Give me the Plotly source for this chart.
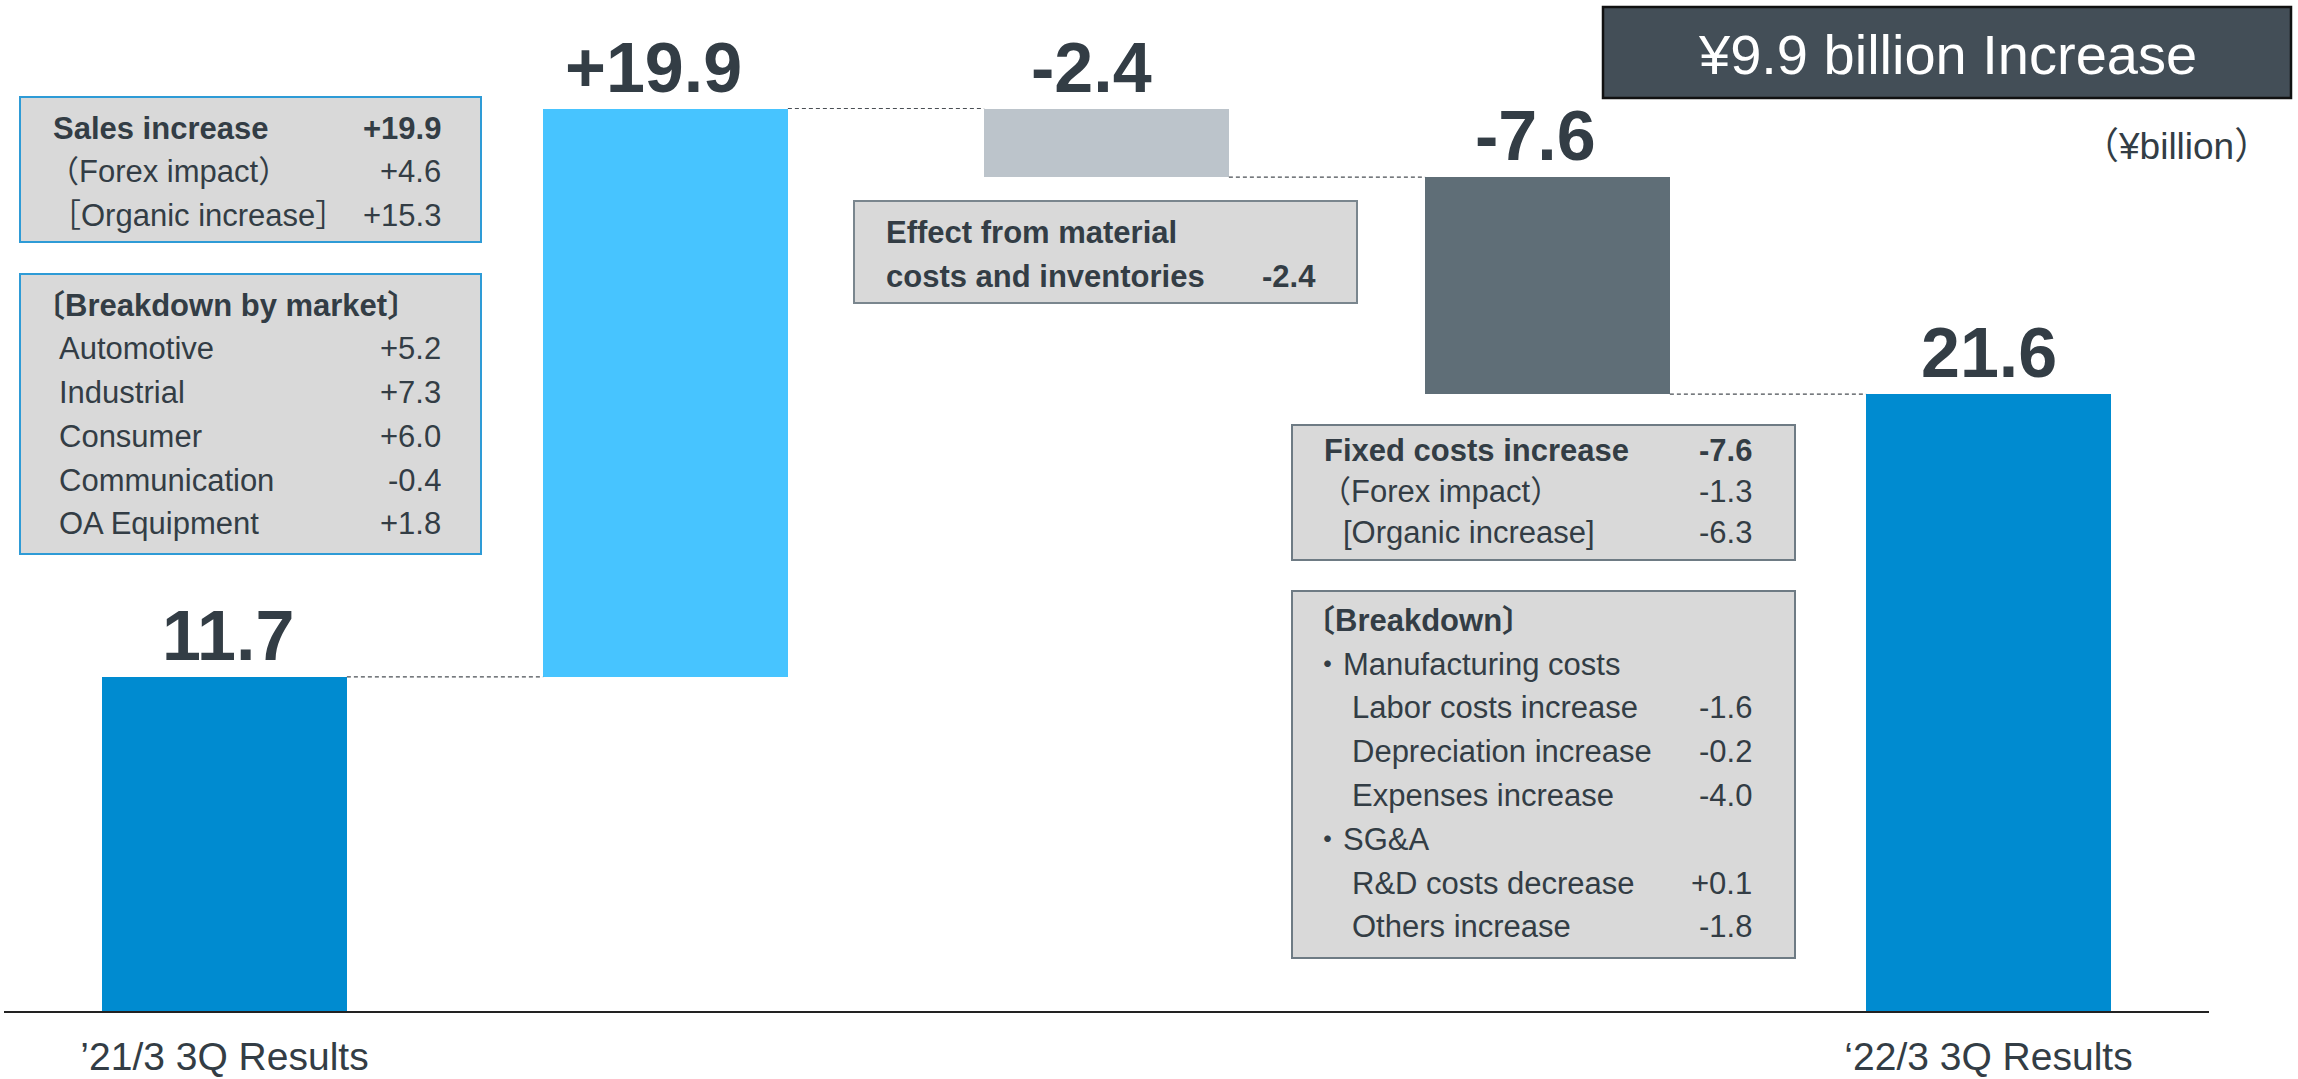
import plotly.graph_objects as go
import numpy as np

# ---------------- data ----------------
categories = ["’21/3 3Q Results", "Sales increase", "Material costs", "Fixed costs", "‘22/3 3Q Results"]
start_value = 11.7
changes = [19.9, -2.4, -7.6]
end_value = 21.6
bar_colors = ["#008BD0", "#47C4FF", "#BCC4CB", "#5F6E77", "#008BD0"]

headline = "¥9.9 billion Increase"
unit_label = "（¥billion）"

sales_rows = ["<b>Sales increase</b>", "（Forex impact）", "［Organic increase］"]
sales_vals = [19.9, 4.6, 15.3]
market_title = "<b>〔Breakdown by market〕</b>"
markets = ["Automotive", "Industrial", "Consumer", "Communication", "OA Equipment"]
market_vals = [5.2, 7.3, 6.0, -0.4, 1.8]

material_rows = ["<b>Effect from material</b>", "<b>costs and inventories</b>"]
material_val = -2.4

fixed_rows = ["<b>Fixed costs increase</b>", "（Forex impact）", "[Organic increase]"]
fixed_vals = [-7.6, -1.3, -6.3]
breakdown_title = "<b>〔Breakdown〕</b>"
breakdown_rows = ["・Manufacturing costs", "Labor costs increase", "Depreciation increase",
                  "Expenses increase", "・SG&A", "R&D costs decrease", "Others increase"]
breakdown_vals = [None, -1.6, -0.2, -4.0, None, 0.1, -1.8]
breakdown_indent = [False, True, True, True, False, True, True]

# ---------------- derived ----------------
levels = np.cumsum([start_value] + changes)          # running totals
bases = [0.0]
heights = [start_value]
for i, c in enumerate(changes):
    prev = levels[i]
    bases.append(min(prev, prev + c))
    heights.append(abs(c))
bases.append(0.0)
heights.append(end_value)
tops = [b + h for b, h in zip(bases, heights)]
bar_text = [f"{start_value:.1f}"] + [f"{c:+.1f}" for c in changes] + [f"{end_value:.1f}"]
label_xshift = [3, -12, -15, -12, 0]

W, H = 2298, 1079
FONT = "Liberation Sans, Arial, Noto Sans CJK JP, sans-serif"
DARK = "#333D45"
BAR_W = 0.555

fig = go.Figure()
fig.add_trace(go.Bar(
    x=list(range(len(categories))), y=heights, base=bases,
    width=BAR_W, marker=dict(color=bar_colors, line=dict(width=0)),
    hoverinfo="skip", showlegend=False,
))

# connectors between bars
conn_levels = [start_value] + list(levels[1:])
for i, lv in enumerate(conn_levels):
    fig.add_trace(go.Scatter(
        x=[i + BAR_W / 2, i + 1 - BAR_W / 2], y=[lv, lv], mode="lines",
        line=dict(color="#4A4F54", width=1.2, dash="4px,3px"),
        hoverinfo="skip", showlegend=False,
    ))

def px(x):
    return x / W

def py(y):
    return 1 - y / H

shapes = []
annotations = []

# value labels above bars
for i, (t, top) in enumerate(zip(bar_text, tops)):
    annotations.append(dict(text=f"<b>{t}</b>", x=i, y=top, xref="x", yref="y",
                            xanchor="center", yanchor="bottom", showarrow=False,
                            xshift=label_xshift[i], yshift=0,
                            font=dict(family=FONT, size=70, color=DARK)))

def box(x0, y0, x1, y1, fill, border, bw=2):
    shapes.append(dict(type="rect", xref="paper", yref="paper",
                       x0=px(x0), x1=px(x1), y0=py(y1), y1=py(y0),
                       fillcolor=fill, line=dict(color=border, width=bw), layer="above"))

def txt(text, x, y, anchor="left", size=31, color=DARK):
    annotations.append(dict(text=text, xref="paper", yref="paper", x=px(x), y=py(y),
                            xanchor=anchor, yanchor="middle", showarrow=False,
                            font=dict(family=FONT, size=size, color=color)))

def fmt(v, bold=False):
    s = f"{v:+.1f}"
    return f"<b>{s}</b>" if bold else s

# headline box
box(1603, 7, 2291, 98, "#434E57", "#111111", 2.5)
txt(headline, (1603 + 2291) / 2, 54, anchor="center", size=56, color="#FFFFFF")
txt(unit_label, 2176, 147, anchor="center", size=37)

# left boxes
box(20, 97, 481, 242, "#D9D9D9", "#2E9BD6", 2)
sales_x = [51, 46, 48]
for k, (lab, v) in enumerate(zip(sales_rows, sales_vals)):
    txt(lab, sales_x[k], 128 + 43.5 * k)
    txt(fmt(v, k == 0), 443, 128 + 43.5 * k, anchor="right")
box(20, 274, 481, 554, "#D9D9D9", "#2E9BD6", 2)
txt(market_title, 32, 305)
for k, (lab, v) in enumerate(zip(markets, market_vals)):
    txt(lab, 57, 349 + 43.7 * k)
    txt(fmt(v), 443, 349 + 43.7 * k, anchor="right")

# middle box
box(854, 201, 1357, 303, "#D9D9D9", "#7A868E", 2)
for k, lab in enumerate(material_rows):
    txt(lab, 884, 232 + 44 * k)
txt(fmt(material_val, True), 1318, 276, anchor="right")

# right boxes
box(1292, 425, 1795, 560, "#D9D9D9", "#6E7B84", 2)
fixed_x = [1322, 1318, 1341]
for k, (lab, v) in enumerate(zip(fixed_rows, fixed_vals)):
    txt(lab, fixed_x[k], 451 + 40.5 * k)
    txt(fmt(v, k == 0), 1754, 451 + 40.5 * k, anchor="right")
box(1292, 591, 1795, 958, "#D9D9D9", "#6E7B84", 2)
txt(breakdown_title, 1302, 620)
for k, (lab, v, ind) in enumerate(zip(breakdown_rows, breakdown_vals, breakdown_indent)):
    yy = 664 + 43.8 * k
    txt(lab, 1350 if ind else 1310, yy)
    if v is not None:
        txt(fmt(v), 1754, yy, anchor="right")

y_top = 1011 / 28.56
fig.update_layout(
    autosize=True, margin=dict(l=0, r=0, t=0, b=0, autoexpand=False),
    paper_bgcolor="white", plot_bgcolor="white",
    shapes=shapes, annotations=annotations, bargap=0,
    xaxis=dict(domain=[4 / W, 2209 / W], range=[-0.5, 4.5],
               tickvals=[0, 4], ticktext=[categories[0], categories[4]],
               showgrid=False, zeroline=False, showline=True, linecolor="#222222", linewidth=2,
               ticks="", ticklabelstandoff=10,
               tickfont=dict(family=FONT, size=39, color=DARK), fixedrange=True),
    yaxis=dict(domain=[(H - 1011) / H, 1], range=[0, y_top], visible=False, fixedrange=True),
    font=dict(family=FONT, color=DARK),
)

fig.write_html("out.html", config={"displayModeBar": False, "responsive": True},
               default_width="100vw", default_height="100vh",
               post_script="document.documentElement.style.margin='0';document.body.style.margin='0';"
                           "document.documentElement.style.overflow='hidden';document.body.style.overflow='hidden';")
